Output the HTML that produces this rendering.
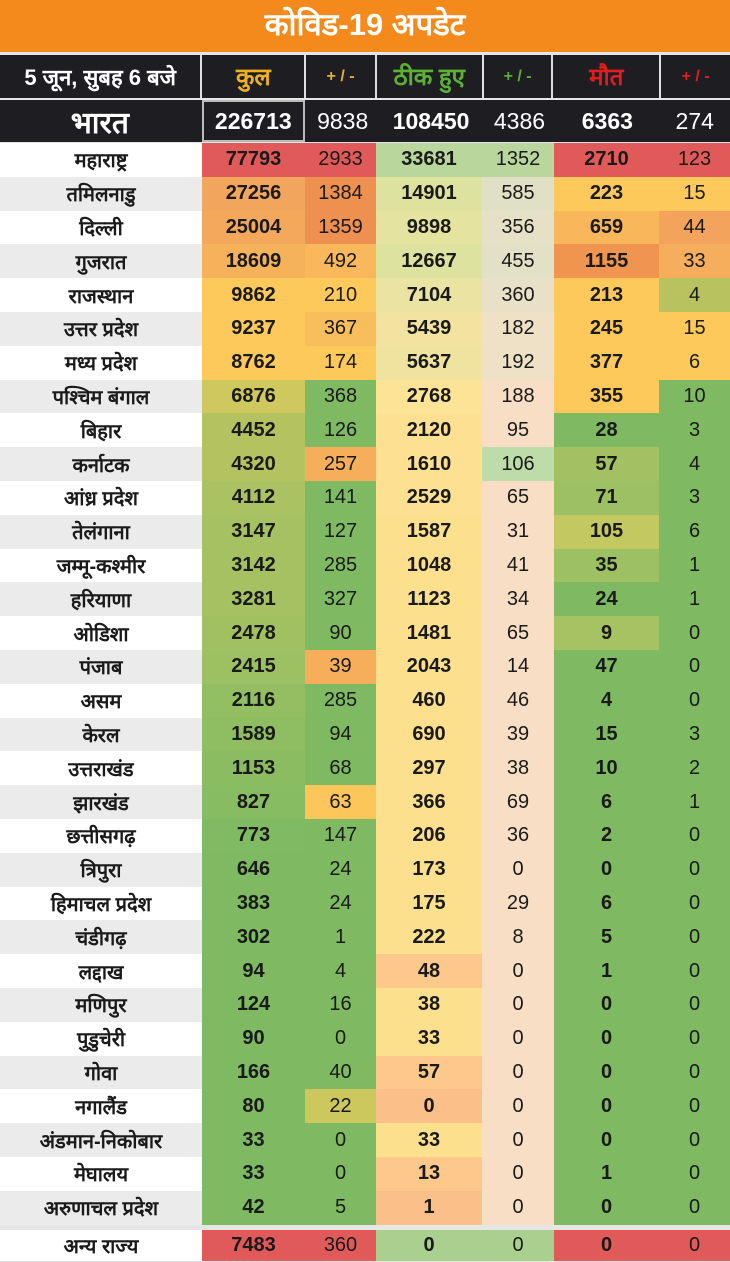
<!DOCTYPE html>
<html><head><meta charset="utf-8">
<style>
*{margin:0;padding:0;box-sizing:border-box}
body{width:730px;height:1262px;background:#e6e6e6;font-family:"Liberation Sans",sans-serif;position:relative;overflow:hidden}
.title{position:absolute;left:0;top:0;width:730px;height:52px;background:#f38a1b;color:#fff;font-weight:bold;font-size:31px;text-align:center;line-height:50px}
.hdr{position:absolute;left:0;width:730px;display:flex;background:#e0e0e0}
.hdr div{background:#1d1d22;color:#fff;display:flex;align-items:center;justify-content:center;margin-right:2px}
.hdr div:last-child{margin-right:0}
.row{position:absolute;left:0;width:730px;height:33.8px;display:flex}
.row div{display:flex;align-items:center;justify-content:center;font-size:20px;color:#1a1a1a}
.c0{width:202px;font-weight:bold;font-size:20px!important}
.c1{width:103px;font-weight:bold}
.c2{width:71px}
.c3{width:106px;font-weight:bold}
.c4{width:72px}
.c5{width:105px;font-weight:bold}
.c6{width:71px}
</style></head><body>
<div class="title">कोविड-19 अपडेट</div>
<div class="hdr" style="top:55px;height:43px">
<div style="width:201px;font-size:22px;font-weight:bold">5 जून, सुबह 6 बजे</div>
<div style="width:102px;color:#f0b020;font-size:24px;font-weight:bold">कुल</div>
<div style="width:69px;color:#e2b430;font-size:16px;font-weight:bold">+ / -</div>
<div style="width:105px;color:#5cb032;font-size:24px;font-weight:bold">ठीक हुए</div>
<div style="width:68px;color:#5cb032;font-size:16px;font-weight:bold">+ / -</div>
<div style="width:106px;color:#e21c1c;font-size:24px;font-weight:bold">मौत</div>
<div style="width:69px;color:#e21c1c;font-size:16px;font-weight:bold">+ / -</div>
</div>
<div class="hdr" style="top:100px;height:42px;background:#1d1d22">
<div style="width:201px;font-size:30px;font-weight:bold">भारत</div>
<div style="width:104px;font-size:23px;font-weight:bold;border:2px solid #bbb;height:42px">226713</div>
<div style="width:72px;font-size:23px;margin:0">9838</div>
<div style="width:106px;font-size:23px;font-weight:bold;margin:0">108450</div>
<div style="width:72px;font-size:23px;margin:0">4386</div>
<div style="width:105px;font-size:23px;font-weight:bold;margin:0">6363</div>
<div style="width:71px;font-size:23px;margin:0">274</div>
</div>
<div class="row" style="top:143px"><div class="c0" style="background:#fff">महाराष्ट्र</div><div class="c1" style="background:#e15a5a">77793</div><div class="c2" style="background:#e15a5a">2933</div><div class="c3" style="background:#b9d79c">33681</div><div class="c4" style="background:#b9d79c">1352</div><div class="c5" style="background:#e15a5a">2710</div><div class="c6" style="background:#e15a5a">123</div></div>
<div class="row" style="top:176.8px"><div class="c0" style="background:#ebebeb">तमिलनाडु</div><div class="c1" style="background:#f2a55c">27256</div><div class="c2" style="background:#ee9050">1384</div><div class="c3" style="background:#dde39e">14901</div><div class="c4" style="background:#e0e0c6">585</div><div class="c5" style="background:#fdc95a">223</div><div class="c6" style="background:#fdc95a">15</div></div>
<div class="row" style="top:210.6px"><div class="c0" style="background:#fff">दिल्ली</div><div class="c1" style="background:#f4a85c">25004</div><div class="c2" style="background:#ee9050">1359</div><div class="c3" style="background:#e5e3a0">9898</div><div class="c4" style="background:#e6e1c6">356</div><div class="c5" style="background:#f8b75a">659</div><div class="c6" style="background:#f4a35c">44</div></div>
<div class="row" style="top:244.4px"><div class="c0" style="background:#ebebeb">गुजरात</div><div class="c1" style="background:#f6b25b">18609</div><div class="c2" style="background:#f8b85b">492</div><div class="c3" style="background:#dde39e">12667</div><div class="c4" style="background:#e2e0c6">455</div><div class="c5" style="background:#ef9550">1155</div><div class="c6" style="background:#f6ad5c">33</div></div>
<div class="row" style="top:278.2px"><div class="c0" style="background:#fff">राजस्थान</div><div class="c1" style="background:#fdc95a">9862</div><div class="c2" style="background:#fdc95a">210</div><div class="c3" style="background:#ebe3a2">7104</div><div class="c4" style="background:#e8e1c7">360</div><div class="c5" style="background:#fdc95a">213</div><div class="c6" style="background:#b8c35f">4</div></div>
<div class="row" style="top:312px"><div class="c0" style="background:#ebebeb">उत्तर प्रदेश</div><div class="c1" style="background:#fdc95a">9237</div><div class="c2" style="background:#f9be5c">367</div><div class="c3" style="background:#f2e3a0">5439</div><div class="c4" style="background:#eee1c6">182</div><div class="c5" style="background:#fdc95a">245</div><div class="c6" style="background:#fdc95a">15</div></div>
<div class="row" style="top:345.8px"><div class="c0" style="background:#fff">मध्य प्रदेश</div><div class="c1" style="background:#fdc95a">8762</div><div class="c2" style="background:#fdc95a">174</div><div class="c3" style="background:#f0e3a0">5637</div><div class="c4" style="background:#eee1c6">192</div><div class="c5" style="background:#fdc95a">377</div><div class="c6" style="background:#fdc95a">6</div></div>
<div class="row" style="top:379.6px"><div class="c0" style="background:#ebebeb">पश्चिम बंगाल</div><div class="c1" style="background:#cfc85f">6876</div><div class="c2" style="background:#7fba63">368</div><div class="c3" style="background:#fde396">2768</div><div class="c4" style="background:#f9dec6">188</div><div class="c5" style="background:#fdc95a">355</div><div class="c6" style="background:#7fba63">10</div></div>
<div class="row" style="top:413.4px"><div class="c0" style="background:#fff">बिहार</div><div class="c1" style="background:#b4c360">4452</div><div class="c2" style="background:#7fba63">126</div><div class="c3" style="background:#fde092">2120</div><div class="c4" style="background:#f9dec6">95</div><div class="c5" style="background:#7fba63">28</div><div class="c6" style="background:#7fba63">3</div></div>
<div class="row" style="top:447.2px"><div class="c0" style="background:#ebebeb">कर्नाटक</div><div class="c1" style="background:#b4c360">4320</div><div class="c2" style="background:#f6ae5a">257</div><div class="c3" style="background:#fde092">1610</div><div class="c4" style="background:#bedcaa">106</div><div class="c5" style="background:#a3c162">57</div><div class="c6" style="background:#7fba63">4</div></div>
<div class="row" style="top:481px"><div class="c0" style="background:#fff">आंध्र प्रदेश</div><div class="c1" style="background:#aac262">4112</div><div class="c2" style="background:#7fba63">141</div><div class="c3" style="background:#fde092">2529</div><div class="c4" style="background:#f9dec6">65</div><div class="c5" style="background:#9dc062">71</div><div class="c6" style="background:#7fba63">3</div></div>
<div class="row" style="top:514.8px"><div class="c0" style="background:#ebebeb">तेलंगाना</div><div class="c1" style="background:#a5c162">3147</div><div class="c2" style="background:#7fba63">127</div><div class="c3" style="background:#fde08e">1587</div><div class="c4" style="background:#f9dec6">31</div><div class="c5" style="background:#c3c960">105</div><div class="c6" style="background:#7fba63">6</div></div>
<div class="row" style="top:548.6px"><div class="c0" style="background:#fff">जम्मू-कश्मीर</div><div class="c1" style="background:#a5c162">3142</div><div class="c2" style="background:#7fba63">285</div><div class="c3" style="background:#fde08e">1048</div><div class="c4" style="background:#f9dec6">41</div><div class="c5" style="background:#9cc062">35</div><div class="c6" style="background:#7fba63">1</div></div>
<div class="row" style="top:582.4px"><div class="c0" style="background:#ebebeb">हरियाणा</div><div class="c1" style="background:#a5c162">3281</div><div class="c2" style="background:#7fba63">327</div><div class="c3" style="background:#fde08e">1123</div><div class="c4" style="background:#f9dec6">34</div><div class="c5" style="background:#7fba63">24</div><div class="c6" style="background:#7fba63">1</div></div>
<div class="row" style="top:616.2px"><div class="c0" style="background:#fff">ओडिशा</div><div class="c1" style="background:#a0c062">2478</div><div class="c2" style="background:#7fba63">90</div><div class="c3" style="background:#fde08e">1481</div><div class="c4" style="background:#f9dec6">65</div><div class="c5" style="background:#a7c262">9</div><div class="c6" style="background:#7fba63">0</div></div>
<div class="row" style="top:650px"><div class="c0" style="background:#ebebeb">पंजाब</div><div class="c1" style="background:#9cc062">2415</div><div class="c2" style="background:#f6ae5a">39</div><div class="c3" style="background:#fde08e">2043</div><div class="c4" style="background:#f9dec6">14</div><div class="c5" style="background:#7fba63">47</div><div class="c6" style="background:#7fba63">0</div></div>
<div class="row" style="top:683.8px"><div class="c0" style="background:#fff">असम</div><div class="c1" style="background:#93be62">2116</div><div class="c2" style="background:#7fba63">285</div><div class="c3" style="background:#fde08e">460</div><div class="c4" style="background:#f9dec6">46</div><div class="c5" style="background:#7fba63">4</div><div class="c6" style="background:#7fba63">0</div></div>
<div class="row" style="top:717.6px"><div class="c0" style="background:#ebebeb">केरल</div><div class="c1" style="background:#8ebd62">1589</div><div class="c2" style="background:#7fba63">94</div><div class="c3" style="background:#fde08e">690</div><div class="c4" style="background:#f9dec6">39</div><div class="c5" style="background:#7fba63">15</div><div class="c6" style="background:#7fba63">3</div></div>
<div class="row" style="top:751.4px"><div class="c0" style="background:#fff">उत्तराखंड</div><div class="c1" style="background:#8bbc62">1153</div><div class="c2" style="background:#7fba63">68</div><div class="c3" style="background:#fde08e">297</div><div class="c4" style="background:#f9dec6">38</div><div class="c5" style="background:#7fba63">10</div><div class="c6" style="background:#7fba63">2</div></div>
<div class="row" style="top:785.2px"><div class="c0" style="background:#ebebeb">झारखंड</div><div class="c1" style="background:#87bc62">827</div><div class="c2" style="background:#fcc65a">63</div><div class="c3" style="background:#fde08e">366</div><div class="c4" style="background:#f9dec6">69</div><div class="c5" style="background:#7fba63">6</div><div class="c6" style="background:#7fba63">1</div></div>
<div class="row" style="top:819px"><div class="c0" style="background:#fff">छत्तीसगढ़</div><div class="c1" style="background:#80ba63">773</div><div class="c2" style="background:#7fba63">147</div><div class="c3" style="background:#fde08e">206</div><div class="c4" style="background:#f9dec6">36</div><div class="c5" style="background:#7fba63">2</div><div class="c6" style="background:#7fba63">0</div></div>
<div class="row" style="top:852.8px"><div class="c0" style="background:#ebebeb">त्रिपुरा</div><div class="c1" style="background:#7fba63">646</div><div class="c2" style="background:#7fba63">24</div><div class="c3" style="background:#fde08e">173</div><div class="c4" style="background:#f9dec6">0</div><div class="c5" style="background:#7fba63">0</div><div class="c6" style="background:#7fba63">0</div></div>
<div class="row" style="top:886.6px"><div class="c0" style="background:#fff">हिमाचल प्रदेश</div><div class="c1" style="background:#7fba63">383</div><div class="c2" style="background:#7fba63">24</div><div class="c3" style="background:#fde08e">175</div><div class="c4" style="background:#f9dec6">29</div><div class="c5" style="background:#7fba63">6</div><div class="c6" style="background:#7fba63">0</div></div>
<div class="row" style="top:920.4px"><div class="c0" style="background:#ebebeb">चंडीगढ़</div><div class="c1" style="background:#7fba63">302</div><div class="c2" style="background:#7fba63">1</div><div class="c3" style="background:#fde08e">222</div><div class="c4" style="background:#f9dec6">8</div><div class="c5" style="background:#7fba63">5</div><div class="c6" style="background:#7fba63">0</div></div>
<div class="row" style="top:954.2px"><div class="c0" style="background:#fff">लद्दाख</div><div class="c1" style="background:#7fba63">94</div><div class="c2" style="background:#7fba63">4</div><div class="c3" style="background:#fcc88c">48</div><div class="c4" style="background:#f9dec6">0</div><div class="c5" style="background:#7fba63">1</div><div class="c6" style="background:#7fba63">0</div></div>
<div class="row" style="top:988px"><div class="c0" style="background:#ebebeb">मणिपुर</div><div class="c1" style="background:#7fba63">124</div><div class="c2" style="background:#7fba63">16</div><div class="c3" style="background:#fde08e">38</div><div class="c4" style="background:#f9dec6">0</div><div class="c5" style="background:#7fba63">0</div><div class="c6" style="background:#7fba63">0</div></div>
<div class="row" style="top:1021.8px"><div class="c0" style="background:#fff">पुडुचेरी</div><div class="c1" style="background:#7fba63">90</div><div class="c2" style="background:#7fba63">0</div><div class="c3" style="background:#fde08e">33</div><div class="c4" style="background:#f9dec6">0</div><div class="c5" style="background:#7fba63">0</div><div class="c6" style="background:#7fba63">0</div></div>
<div class="row" style="top:1055.6px"><div class="c0" style="background:#ebebeb">गोवा</div><div class="c1" style="background:#7fba63">166</div><div class="c2" style="background:#7fba63">40</div><div class="c3" style="background:#fcc88c">57</div><div class="c4" style="background:#f9dec6">0</div><div class="c5" style="background:#7fba63">0</div><div class="c6" style="background:#7fba63">0</div></div>
<div class="row" style="top:1089.4px"><div class="c0" style="background:#fff">नगालैंड</div><div class="c1" style="background:#7fba63">80</div><div class="c2" style="background:#cdc85e">22</div><div class="c3" style="background:#fbbf8a">0</div><div class="c4" style="background:#f9dec6">0</div><div class="c5" style="background:#7fba63">0</div><div class="c6" style="background:#7fba63">0</div></div>
<div class="row" style="top:1123.2px"><div class="c0" style="background:#ebebeb">अंडमान-निकोबार</div><div class="c1" style="background:#7fba63">33</div><div class="c2" style="background:#7fba63">0</div><div class="c3" style="background:#fde08e">33</div><div class="c4" style="background:#f9dec6">0</div><div class="c5" style="background:#7fba63">0</div><div class="c6" style="background:#7fba63">0</div></div>
<div class="row" style="top:1157px"><div class="c0" style="background:#fff">मेघालय</div><div class="c1" style="background:#7fba63">33</div><div class="c2" style="background:#7fba63">0</div><div class="c3" style="background:#fcc88c">13</div><div class="c4" style="background:#f9dec6">0</div><div class="c5" style="background:#7fba63">1</div><div class="c6" style="background:#7fba63">0</div></div>
<div class="row" style="top:1190.8px"><div class="c0" style="background:#ebebeb">अरुणाचल प्रदेश</div><div class="c1" style="background:#7fba63">42</div><div class="c2" style="background:#7fba63">5</div><div class="c3" style="background:#fbbf8a">1</div><div class="c4" style="background:#f9dec6">0</div><div class="c5" style="background:#7fba63">0</div><div class="c6" style="background:#7fba63">0</div></div>
<div class="row" style="top:1230px;height:31px"><div class="c0" style="background:#fff">अन्य राज्य</div><div class="c1" style="background:#e15a5a">7483</div><div class="c2" style="background:#e15a5a">360</div><div class="c3" style="background:#a9d08f">0</div><div class="c4" style="background:#a9d08f">0</div><div class="c5" style="background:#e15a5a">0</div><div class="c6" style="background:#e15a5a">0</div></div>
</body></html>
